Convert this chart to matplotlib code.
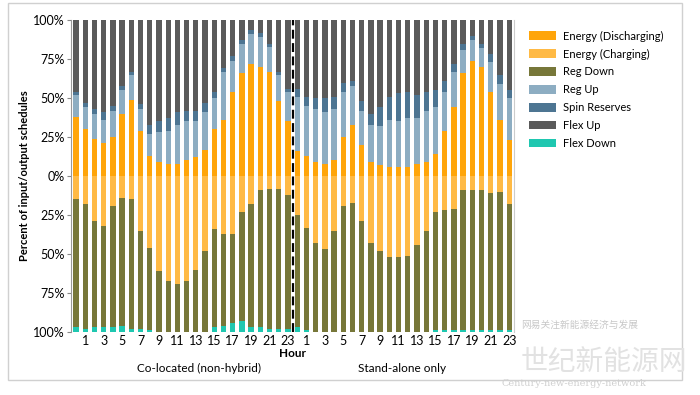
import numpy as np
import matplotlib
matplotlib.use('Agg')
import matplotlib.pyplot as plt
from matplotlib.patches import Patch, Rectangle

plt.rcParams['font.family'] = ['Lato', 'DejaVu Sans']

# Hour of day for each group
hours = list(range(24))
groups = ['Co-located (non-hybrid)', 'Stand-alone only']

# Co-located (non-hybrid): upward services (% of schedule)
dis_co = [38, 30, 24, 21, 25, 40, 49, 29, 13, 9, 8, 8, 10, 12, 17, 30, 36, 54, 66, 72, 70, 67, 48, 35]
regup_co = [14, 14, 16, 15, 17, 15, 16, 14, 14, 19, 21, 25, 25, 23, 24, 20, 31, 20, 19, 19, 19, 16, 17, 19]
spin_co = [2, 3, 3, 5, 3, 3, 2, 3, 6, 7, 8, 8, 7, 7, 6, 4, 2, 3, 2, 3, 3, 2, 2, 2]
flexup_co = [46, 53, 57, 59, 55, 42, 33, 54, 67, 65, 63, 59, 58, 58, 53, 46, 31, 23, 13, 6, 8, 15, 33, 44]
# Co-located: downward services
chg_co = [15, 18, 29, 32, 19, 14, 15, 35, 46, 61, 67, 69, 67, 60, 48, 34, 37, 37, 23, 18, 9, 8, 8, 12]
regdn_co = [82, 80, 68, 65, 78, 82, 83, 63, 53, 39, 33, 31, 33, 40, 52, 63, 59, 57, 70, 79, 88, 90, 90, 86]
flexdn_co = [3, 2, 3, 3, 3, 4, 2, 2, 1, 0, 0, 0, 0, 0, 0, 3, 4, 6, 7, 3, 3, 2, 2, 2]

# Stand-alone only: upward services
dis_sa = [16, 13, 9, 8, 10, 25, 33, 20, 9, 7, 6, 6, 6, 8, 9, 14, 29, 44, 66, 74, 70, 54, 36, 23]
regup_sa = [35, 32, 34, 33, 33, 29, 25, 22, 24, 25, 30, 29, 31, 29, 33, 30, 25, 23, 15, 13, 12, 19, 23, 27]
spin_sa = [5, 6, 7, 9, 8, 6, 3, 6, 7, 12, 15, 18, 17, 15, 12, 11, 7, 5, 4, 3, 3, 5, 6, 5]
flexup_sa = [44, 49, 50, 50, 49, 40, 39, 52, 60, 56, 49, 47, 46, 48, 46, 45, 39, 28, 15, 10, 15, 22, 35, 45]
# Stand-alone: downward services
chg_sa = [25, 33, 43, 47, 35, 19, 17, 29, 43, 48, 52, 52, 51, 44, 35, 23, 22, 21, 9, 9, 9, 11, 10, 18]
regdn_sa = [72, 66, 57, 53, 65, 81, 83, 71, 57, 52, 48, 48, 49, 56, 65, 76, 77, 78, 90, 90, 90, 88, 89, 81]
flexdn_sa = [3, 1, 0, 0, 0, 0, 0, 0, 0, 0, 0, 0, 0, 0, 0, 1, 1, 1, 1, 1, 1, 1, 1, 1]

colors = {
    'Energy (Discharging)': '#FFA50A',
    'Energy (Charging)': '#FFBA45',
    'Reg Down': '#777739',
    'Reg Up': '#8DADC2',
    'Spin Reserves': '#4D7592',
    'Flex Up': '#5A5A5A',
    'Flex Down': '#1FC7B0',
}

fig = plt.figure(figsize=(7, 3.95), dpi=100)
ax = fig.add_axes([0.102, 0.1595, 0.632, 0.7895])

x = np.arange(48)
w = 0.58

up = [
    ('Energy (Discharging)', dis_co + dis_sa),
    ('Reg Up', regup_co + regup_sa),
    ('Spin Reserves', spin_co + spin_sa),
    ('Flex Up', flexup_co + flexup_sa),
]
down = [
    ('Energy (Charging)', chg_co + chg_sa),
    ('Reg Down', regdn_co + regdn_sa),
    ('Flex Down', flexdn_co + flexdn_sa),
]

bottom = np.zeros(48)
for name, vals in up:
    vals = np.array(vals, dtype=float)
    ax.bar(x, vals, w, bottom=bottom, color=colors[name], linewidth=0)
    bottom += vals

bottom = np.zeros(48)
for name, vals in down:
    vals = -np.array(vals, dtype=float)
    ax.bar(x, vals, w, bottom=bottom, color=colors[name], linewidth=0)
    bottom += vals

# separator between the two groups
ax.axvline(23.5, color='black', linestyle=(0, (4, 2)), linewidth=1.6)

ax.set_xlim(-0.5, 47.5)
ax.set_ylim(-100, 100)
yt = [-100, -75, -50, -25, 0, 25, 50, 75, 100]
ax.set_yticks(yt)
ax.set_yticklabels([f'{abs(v)}%' for v in yt], fontsize=9)
xt = [i for i in x if i % 2 == 1]
ax.set_xticks(xt)
ax.set_xticklabels([str(i % 24) for i in xt], fontsize=9)
ax.tick_params(axis='x', length=0, pad=2)
ax.tick_params(axis='y', length=3, color='#888888', pad=2)

for s in ['top', 'bottom']:
    ax.spines[s].set_visible(False)
ax.spines['left'].set_color('#999999')
ax.spines['right'].set_color('#cccccc')

ax.set_ylabel('Percent of input/output schedules', fontsize=8, fontweight='bold', labelpad=2)
fig.text(0.418, 0.106, 'Hour', ha='center', va='center', fontsize=8.5, fontweight='bold')
fig.text(0.285, 0.066, groups[0], ha='center', va='center', fontsize=8.5)
fig.text(0.575, 0.066, groups[1], ha='center', va='center', fontsize=8.5)

order = ['Energy (Discharging)', 'Energy (Charging)', 'Reg Down', 'Reg Up',
         'Spin Reserves', 'Flex Up', 'Flex Down']
handles = [Patch(facecolor=colors[n], edgecolor='none') for n in order]
fig.legend(handles, order, loc='upper left', bbox_to_anchor=(0.742, 0.948),
           frameon=False, fontsize=8, handlelength=2.4, handleheight=0.8,
           handletextpad=0.6, labelspacing=0.62)

# light frame round the picture
fig.patches.append(Rectangle((8 / 700, 1 - 380 / 395), 674 / 700, 377 / 395,
                             transform=fig.transFigure, fill=False,
                             edgecolor='#d0d0d0', linewidth=1))

# faint watermark in the lower right corner
fig.text(0.745, 0.178, '网易关注新能源经济与发展', fontsize=7, color='#c8c8c8',
         family=['Noto Sans CJK SC', 'DejaVu Sans'], va='center')
fig.text(0.862, 0.083, '世纪新能源网', fontsize=20, color='#e2e2e2', ha='center',
         va='center', family=['Noto Sans CJK SC', 'DejaVu Sans'])
fig.text(0.82, 0.03, 'Century-new-energy-network', fontsize=7, color='#cfcfcf',
         ha='center', va='center', family=['DejaVu Serif'])

fig.savefig('out.png', dpi=100)
